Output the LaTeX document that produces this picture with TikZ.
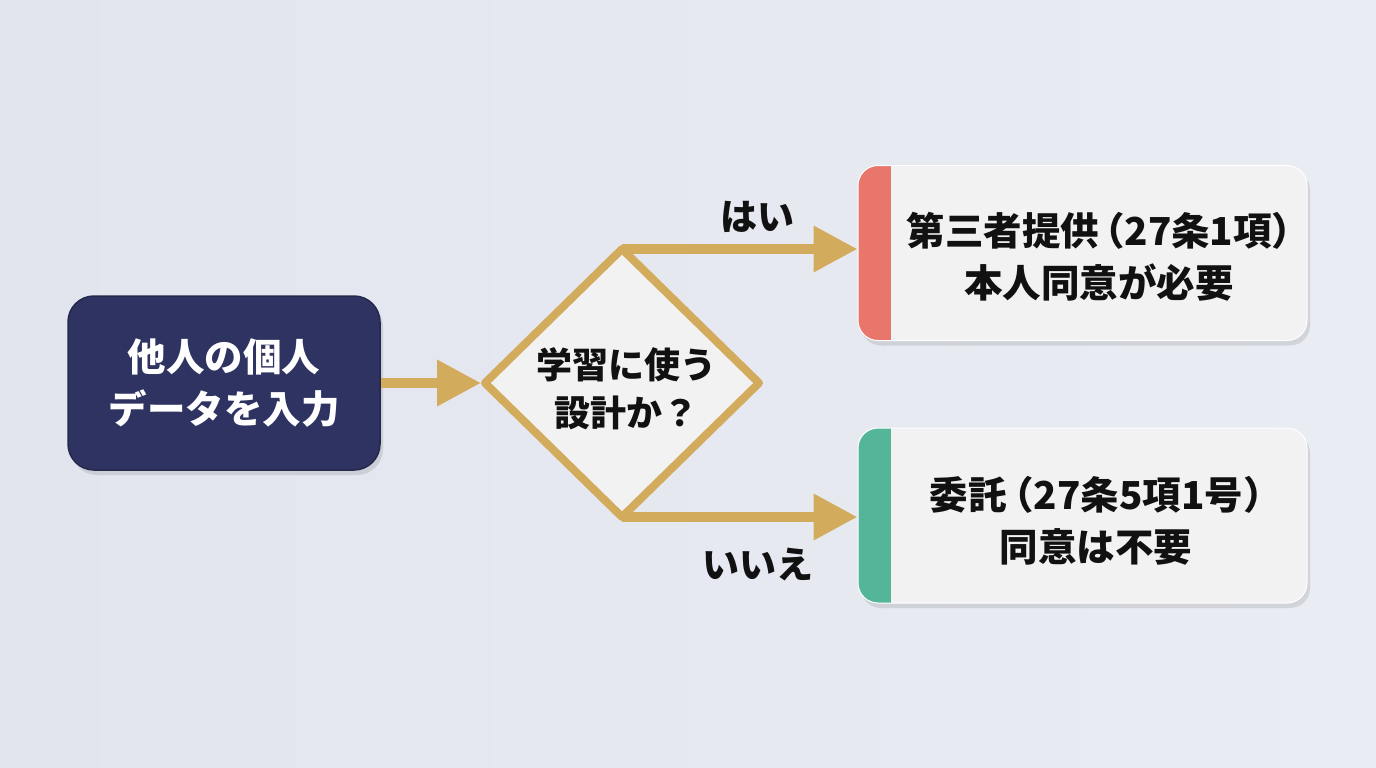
\documentclass[tikz,border=0pt]{standalone}
\usepackage{fontspec}
\setmainfont{Noto Sans CJK JP}
\newfontfamily\jphalt{Noto Sans CJK JP}[RawFeature=+halt]
\newcommand{\hp}[1]{{\jphalt #1}}
\usetikzlibrary{shapes.geometric,arrows.meta,shadows}
\definecolor{bgl}{HTML}{E2E5EE}
\definecolor{bgr}{HTML}{EAECF3}
\definecolor{navy}{HTML}{2F3361}
\definecolor{navyedge}{HTML}{24284D}
\definecolor{gold}{HTML}{D2AC5C}
\definecolor{card}{HTML}{F2F2F3}
\definecolor{redacc}{HTML}{E8766A}
\definecolor{greenacc}{HTML}{55B598}
\definecolor{ink}{HTML}{111111}
\tikzset{
  shad/.style={drop shadow={shadow xshift=3pt, shadow yshift=-5pt, opacity=0.15, fill=black!70}},
  startbox/.style={rectangle, rounded corners=26pt, fill=navy, draw=navyedge, line width=1.5pt,
    minimum width=312pt, minimum height=174pt, inner sep=0pt, shad},
  cardbox/.style={rectangle, rounded corners=20pt, fill=card, draw=white, line width=1pt,
    minimum width=449pt, minimum height=175pt, inner sep=0pt, shad,
    path picture={\fill[#1, sharp corners] (path picture bounding box.south west) rectangle ([xshift=33pt]path picture bounding box.north west);}},
  decision/.style={diamond, fill=card, draw=gold, line width=8pt, line join=round, minimum width=274pt,
    minimum height=268pt, inner sep=0pt, outer sep=0pt, aspect=1},
  bigtext/.style={align=center, font=\bfseries\fontsize{38.5}{52}\selectfont},
  midtext/.style={align=center, font=\bfseries\fontsize{36}{48}\selectfont, text=ink},
  lbl/.style={font=\bfseries\fontsize{37}{44}\selectfont, text=ink},
  arr/.style={draw=gold, line width=10pt, -{Triangle[length=44pt,width=44pt]}}
}
\begin{document}
\begin{tikzpicture}[x=1pt,y=-1pt]
\useasboundingbox (0,0) rectangle (1376,768);
\shade[left color=bgl, right color=bgr] (0,0) rectangle (1376,768);

\node[startbox] (s) at (224,383) {};
\node[bigtext, text=white] (st) at (224,383) {他人の個人\\データを入力};

\node[decision] (d) at (622,383) {};
\node[midtext] (dt) at (626,389) {学習に使う\\設計か？};

\node[cardbox=redacc] (b1) at (1082.5,253) {};
\node[bigtext, text=ink] (b1t) at (1099,257) {第三者提供\hspace{6pt}\hp{（}27条1項\hp{）}\\本人同意が必要};

\node[cardbox=greenacc] (b2) at (1082.5,515.5) {};
\node[bigtext, text=ink] (b2t) at (1096,521) {委託\hspace{8pt}\hp{（}27条5項1号\hp{）}\\同意は不要};

\draw[arr, shorten >=4pt] (s.east) -- (d.west);
\draw[arr] (d.north) -- (d.north -| b1.west);
\draw[arr] (d.south) -- (d.south -| b2.west);

\node[lbl] (yes) at (757,217) {はい};
\node[lbl] (no) at (758,565) {いいえ};
\end{tikzpicture}
\end{document}
